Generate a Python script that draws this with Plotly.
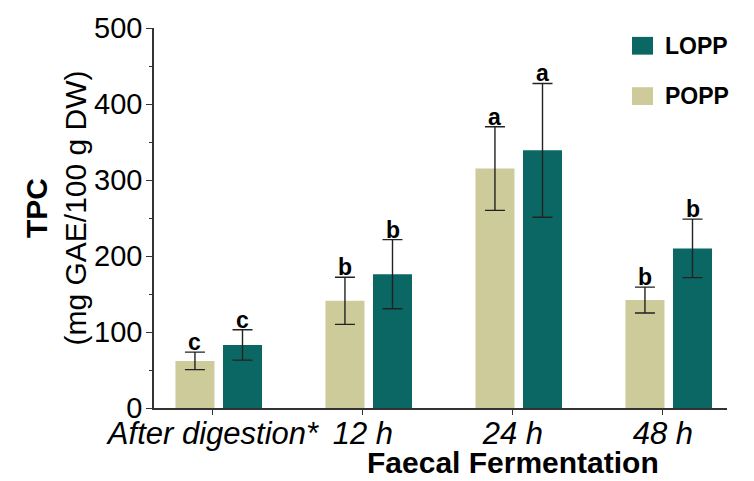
import numpy as np
import plotly.graph_objects as go

# Sample stages and measured total phenolic content (mean ± SD)
stages = ["After digestion*", "12 h", "24 h", "48 h"]
popp_mean = [62, 141, 315, 142]
popp_sd = [11.5, 31, 55, 17]
lopp_mean = [83, 176, 339, 210]
lopp_sd = [20, 45.5, 88, 38.5]
popp_letters = ["c", "b", "a", "b"]
lopp_letters = ["c", "b", "a", "b"]

POPP_COLOR = "#cdcb9a"
LOPP_COLOR = "#0a6763"
FONT = "Liberation Sans, Arial, sans-serif"

idx = np.arange(len(stages))
bar_w = 0.26
popp_x = idx - 0.12
lopp_x = idx + 0.197

err_style = dict(type="data", color="#222222", thickness=1.4, width=10, visible=True)

fig = go.Figure()
fig.add_trace(go.Bar(
    x=popp_x, y=popp_mean, width=bar_w, name="POPP",
    marker=dict(color=POPP_COLOR, line=dict(width=0)),
    error_y=dict(array=popp_sd, **err_style),
    showlegend=False,
))
fig.add_trace(go.Bar(
    x=lopp_x, y=lopp_mean, width=bar_w, name="LOPP",
    marker=dict(color=LOPP_COLOR, line=dict(width=0)),
    error_y=dict(array=lopp_sd, **err_style),
    showlegend=False,
))

annotations = []
# significance letters above each error bar
for xs, means, sds, letters in [
    (popp_x, popp_mean, popp_sd, popp_letters),
    (lopp_x, lopp_mean, lopp_sd, lopp_letters),
]:
    for x, m, s, t in zip(xs, means, sds, letters):
        annotations.append(dict(
            x=x, y=m + s, xref="x", yref="y", text=f"<b>{t}</b>",
            showarrow=False, yanchor="bottom", yshift=-5,
            font=dict(family=FONT, size=23, color="black"),
        ))

# axis titles
annotations.append(dict(
    x=(55 - 154) / 573, y=0.525, xref="paper", yref="paper",
    text="<b>TPC</b><br>(mg GAE/100 g DW)", textangle=-90,
    showarrow=False, xanchor="center", yanchor="middle",
    font=dict(family=FONT, size=30, color="black"),
))
annotations.append(dict(
    x=2, y=(408 - 481) / 385, xref="x", yref="paper",
    text="<b>Faecal Fermentation</b>",
    showarrow=False, xanchor="center", yanchor="bottom", borderpad=0,
    font=dict(family=FONT, size=30, color="black"),
))

# legend swatches and labels
legend_items = [("LOPP", LOPP_COLOR, 0.0), ("POPP", POPP_COLOR, 51.0)]
shapes = []
for label, color, dy in legend_items:
    y_top = (408 - (32 + dy)) / 385
    y_bot = (408 - (50 + dy)) / 385
    shapes.append(dict(
        type="rect", xref="paper", yref="paper",
        x0=(632 - 154) / 573, x1=(653 - 154) / 573, y0=y_bot, y1=y_top,
        fillcolor=color, line=dict(width=0),
    ))
    annotations.append(dict(
        x=(663 - 154) / 573, y=(y_top + y_bot) / 2, xref="paper", yref="paper",
        text=f"<b>{label}</b>", showarrow=False, xanchor="left", yanchor="middle",
        font=dict(family=FONT, size=23, color="black"),
    ))

fig.update_layout(
    width=754, height=481,
    margin=dict(l=154, r=27, t=23, b=73),
    paper_bgcolor="white", plot_bgcolor="white",
    barmode="overlay",
    annotations=annotations, shapes=shapes,
    font=dict(family=FONT, color="black"),
)
fig.update_xaxes(
    range=[-0.393, 3.427], tickvals=idx, ticktext=stages,
    tickfont=dict(family=FONT, size=31, color="black", style="italic"),
    showline=True, linecolor="#333333", linewidth=1.5,
    ticks="outside", ticklen=5, tickwidth=1.2, tickcolor="#333333",
    ticklabelstandoff=-8,
    showgrid=False, zeroline=False,
)
fig.update_yaxes(
    range=[0, 500], tickvals=[0, 100, 200, 300, 400, 500],
    tickfont=dict(family=FONT, size=29, color="black"),
    showline=True, linecolor="#333333", linewidth=1.5,
    ticks="outside", ticklen=6, tickwidth=1.2, tickcolor="#333333",
    ticklabelstandoff=-2,
    minor=dict(dtick=50, ticks="outside", ticklen=3, tickwidth=1.2, tickcolor="#333333"),
    showgrid=False, zeroline=False,
)

fig.write_html("out.html")
